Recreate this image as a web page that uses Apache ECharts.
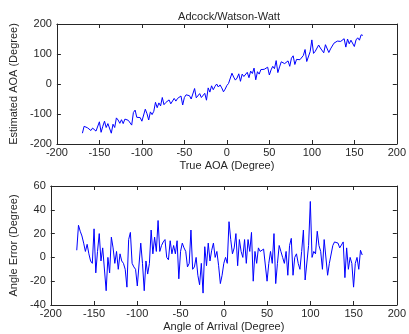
<!DOCTYPE html>
<html>
<head>
<meta charset="utf-8">
<script src="https://cdn.jsdelivr.net/npm/echarts@6/dist/echarts.min.js"></script>
<style>
  html, body { margin: 0; padding: 0; background: #ffffff; }
  #chart { width: 409px; height: 334px; }
</style>
</head>
<body>
<div id="chart"></div>
<script>
// True angle of arrival, degrees
var trueAoa = [
  -170, -168, -166, -164, -162, -160, -158, -156, -154, -152,
  -150, -148, -146, -144, -142, -140, -138, -136, -134, -132,
  -130, -128, -126, -124, -122, -120, -118, -116, -114, -112,
  -110, -108, -106, -104, -102, -100, -98, -96, -94, -92,
  -90, -88, -86, -84, -82, -80, -78, -76, -74, -72,
  -70, -68, -66, -64, -62, -60, -58, -56, -54, -52,
  -50, -48, -46, -44, -42, -40, -38, -36, -34, -32,
  -30, -28, -26, -24, -22, -20, -18, -16, -14, -12,
  -10, -8, -6, -4, -2, 0, 2, 4, 6, 8,
  10, 12, 14, 16, 18, 20, 22, 24, 26, 28,
  30, 32, 34, 36, 38, 40, 42, 44, 46, 48,
  50, 52, 54, 56, 58, 60, 62, 64, 66, 68,
  70, 72, 74, 76, 78, 80, 82, 84, 86, 88,
  90, 92, 94, 96, 98, 100, 102, 104, 106, 108,
  110, 112, 114, 116, 118, 120, 122, 124, 126, 128,
  130, 132, 134, 136, 138, 140, 142, 144, 146, 148,
  150, 152, 154, 156, 158, 160
];

// Estimated angle of arrival, degrees
var estimatedAoa = [
  -164, -141, -144, -146, -150, -155, -147, -153, -157, -157,
  -126, -161, -141, -124, -145, -132, -130, -164, -134, -145,
  -113, -120, -131, -119, -132, -117, -121, -121, -124, -137,
  -95, -87, -111, -112, -112, -124, -121, -84, -99, -120,
  -93, -102, -91, -61, -79, -63, -73, -45, -69, -62,
  -57, -53, -66, -66, -48, -57, -48, -53, -40, -70,
  -45, -36, -38, -39, -50, -45, -15, -46, -42, -32,
  -45, -51, -31, -54, -13, -27, -6, -19, -8, 0,
  -10, -3, -13, -26, -17, -5, 2, -1, 36, 23,
  13, 20, 34, 9, 33, 25, 22, 39, 21, 43,
  35, 53, 14, 41, 33, 48, 47, 49, 53, 56,
  30, 47, 59, 51, 78, 38, 57, 74, 71, 68,
  65, 77, 59, 86, 94, 65, 82, 87, 81, 78,
  95, 115, 75, 78, 108, 147, 102, 109, 109, 130,
  120, 117, 104, 131, 132, 105, 117, 119, 136, 141,
  143, 144, 142, 143, 151, 123, 150, 134, 146, 143,
  125, 147, 154, 146, 164, 162
];

// Angle error (estimated minus true), degrees
var angleError = [
  6, 27, 22, 18, 12, 5, 11, 3, -3, -5,
  24, -13, 5, 20, -3, 8, 8, -28, 0, -13,
  17, 8, -5, 5, -10, 3, -3, -5, -10, -25,
  15, 21, -5, -8, -10, -24, -23, 12, -5, -28,
  -3, -14, -5, 23, 3, 17, 5, 31, 5, 10,
  13, 15, 0, -2, 14, 3, 10, 3, 14, -18,
  5, 12, 8, 5, -8, -5, 23, -10, -8, 0,
  -15, -23, -5, -30, 9, -7, 12, -3, 6, 12,
  0, 5, -7, -22, -15, -5, 0, -5, 30, 15,
  3, 8, 20, -7, 15, 5, 0, 15, -5, 15,
  5, 21, -20, 5, -5, 8, 5, 5, 7, 8,
  -20, -5, 5, -5, 20, -22, -5, 10, 5, 0,
  -5, 5, -15, 10, 16, -15, 0, 3, -5, -10,
  5, 23, -19, -18, 10, 47, 0, 5, 3, 22,
  10, 5, -10, 15, 14, -15, -5, -5, 10, 13,
  13, 12, 8, 7, 13, -17, 8, -10, 0, -5,
  -25, -5, 0, -10, 6, 2
];

var xTicks = { min: -200, max: 200, interval: 50 };
var topYTicks = { min: -200, max: 200, interval: 100 };
var bottomYTicks = { min: -40, max: 60, interval: 20 };

var FONT = 'Liberation Sans, Arial, sans-serif';
var TXT = '#262626';
var AX = '#262626';

function pairs(xs, ys) {
  return xs.map(function (x, i) { return [x, ys[i]]; });
}

function xAxisMain(gridIndex, name) {
  return {
    type: 'value', gridIndex: gridIndex, position: 'bottom',
    min: xTicks.min, max: xTicks.max, interval: xTicks.interval,
    name: name, nameLocation: 'middle', nameGap: 16,
    nameTextStyle: { color: TXT, fontFamily: FONT, fontSize: 11 },
    axisLine: { show: true, onZero: false, lineStyle: { color: AX, width: 1 } },
    axisTick: { show: true, inside: true, length: 4, lineStyle: { color: AX } },
    axisLabel: { color: TXT, fontFamily: FONT, fontSize: 11, margin: 3 },
    splitLine: { show: false }
  };
}
function xAxisMirror(gridIndex) {
  return {
    type: 'value', gridIndex: gridIndex, position: 'top',
    min: xTicks.min, max: xTicks.max, interval: xTicks.interval,
    axisLine: { show: true, onZero: false, lineStyle: { color: AX, width: 1 } },
    axisTick: { show: true, inside: true, length: 4, lineStyle: { color: AX } },
    axisLabel: { show: false },
    splitLine: { show: false }
  };
}
function yAxisMain(gridIndex, ticks, name, gap) {
  return {
    type: 'value', gridIndex: gridIndex, position: 'left',
    min: ticks.min, max: ticks.max, interval: ticks.interval,
    name: name, nameLocation: 'middle', nameGap: gap,
    nameTextStyle: { color: TXT, fontFamily: FONT, fontSize: 11 },
    axisLine: { show: true, onZero: false, lineStyle: { color: AX, width: 1 } },
    axisTick: { show: true, inside: true, length: 4, lineStyle: { color: AX } },
    axisLabel: { color: TXT, fontFamily: FONT, fontSize: 11, margin: 5 },
    splitLine: { show: false }
  };
}
function yAxisMirror(gridIndex, ticks) {
  return {
    type: 'value', gridIndex: gridIndex, position: 'right',
    min: ticks.min, max: ticks.max, interval: ticks.interval,
    axisLine: { show: true, onZero: false, lineStyle: { color: AX, width: 1 } },
    axisTick: { show: true, inside: true, length: 4, lineStyle: { color: AX } },
    axisLabel: { show: false },
    splitLine: { show: false }
  };
}

var chart = echarts.init(document.getElementById('chart'), null, { renderer: 'canvas' });
chart.setOption({
  backgroundColor: '#ffffff',
  animation: false,
  title: {
    text: 'Adcock/Watson-Watt',
    left: 224, top: 6, textAlign: 'center',
    textStyle: { color: TXT, fontFamily: FONT, fontSize: 11, fontWeight: 'normal' }
  },
  grid: [
    { left: 48, top: 24, width: 353, height: 120, containLabel: false },
    { left: 48, top: 186, width: 353, height: 119, containLabel: false }
  ],
  xAxis: [
    xAxisMain(0, 'True AOA (Degree)'),
    xAxisMirror(0),
    xAxisMain(1, 'Angle of Arrival (Degree)'),
    xAxisMirror(1)
  ],
  yAxis: [
    yAxisMain(0, topYTicks, 'Estimated AOA (Degree)', 30),
    yAxisMirror(0, topYTicks),
    yAxisMain(1, bottomYTicks, 'Angle Error (Degree)', 24),
    yAxisMirror(1, bottomYTicks)
  ],
  series: [
    {
      type: 'line', xAxisIndex: 0, yAxisIndex: 0,
      data: pairs(trueAoa, estimatedAoa),
      showSymbol: false, symbol: 'none',
      lineStyle: { color: '#0000ff', width: 1 }
    },
    {
      type: 'line', xAxisIndex: 2, yAxisIndex: 2,
      data: pairs(trueAoa, angleError),
      showSymbol: false, symbol: 'none',
      lineStyle: { color: '#0000ff', width: 1 }
    }
  ]
});
</script>
</body>
</html>
